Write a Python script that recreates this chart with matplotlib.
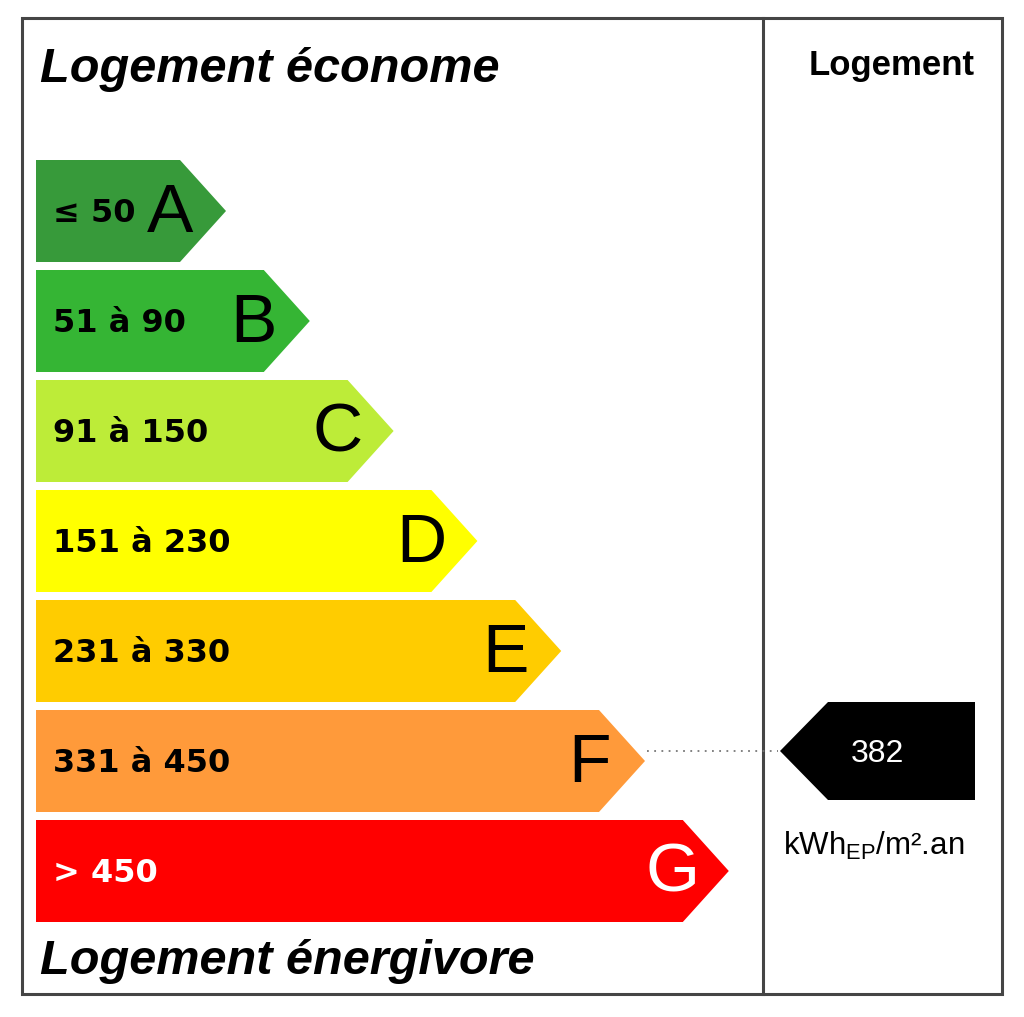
import matplotlib
matplotlib.use("Agg")
import matplotlib.pyplot as plt
from matplotlib.patches import Polygon, Rectangle

plt.rcParams['font.family'] = ['Liberation Sans', 'DejaVu Sans']

# classes of the energy label
letters = ['A', 'B', 'C', 'D', 'E', 'F', 'G']
ranges = ['≤ 50', '51 à 90', '91 à 150', '151 à 230', '231 à 330', '331 à 450', '> 450']
lower = [0, 51, 91, 151, 231, 331, 451]
colors = ['#379a3a', '#35b534', '#bdec38', '#ffff00', '#ffcc00', '#ff9a3a', '#ff0000']
text_colors = ['black', 'black', 'black', 'black', 'black', 'black', 'white']
value = 382  # kWh_EP/m².an

fig = plt.figure(figsize=(10.24, 10.17), dpi=100)
ax = fig.add_axes([0, 0, 1, 1])
ax.set_xlim(0, 1024)
ax.set_ylim(1017, 0)
ax.axis('off')

# frame
ax.add_patch(Rectangle((22, 18), 980, 976, fill=False, edgecolor='#454545', lw=2.2))
ax.plot([763, 763], [18, 994], color='#454545', lw=2.2)

ax.text(40, 69, 'Logement économe', fontsize=35, fontweight='bold', fontstyle='italic',
        ha='left', va='center')
ax.text(40, 961, 'Logement énergivore', fontsize=35, fontweight='bold', fontstyle='italic',
        ha='left', va='center')
ax.text(892, 65, 'Logement', fontsize=25, fontweight='bold', ha='center', va='center')

left = 36
top0 = 160
step = 110.0
h = 102
tip = 46

cls = max(i for i in range(len(lower)) if value >= lower[i])

for i, (let, rng, col, tc) in enumerate(zip(letters, ranges, colors, text_colors)):
    y0 = top0 + i * step
    y1 = y0 + h
    right = 180 + 83.8 * i
    ax.add_patch(Polygon([(left, y0), (right, y0), (right + tip, (y0 + y1) / 2),
                          (right, y1), (left, y1)], closed=True, facecolor=col, edgecolor='none'))
    ax.text(53, (y0 + y1) / 2 + 2, rng, fontsize=23, fontweight='bold', color=tc,
            family='DejaVu Sans', ha='left', va='center')
    ax.text(right - 10, (y0 + y1) / 2 + 3, let, fontsize=50, color=tc,
            ha='center', va='center')

# marker for the dwelling value
ym = top0 + cls * step + h / 2 - 10
ax.add_patch(Polygon([(780, ym), (828, ym - 49), (975, ym - 49), (975, ym + 49), (828, ym + 49)],
                     closed=True, facecolor='black', edgecolor='none'))
ax.text(877, ym + 3, str(value), fontsize=23, color='white', ha='center', va='center')
fr = 180 + 83.8 * cls + tip
ax.plot([fr + 2, 778], [ym, ym], color='#777777', lw=1.3, linestyle=(0, (1, 3)))
ax.text(874, 846, r'kWh$_{\mathregular{EP}}$/m².an', fontsize=22.5, ha='center', va='center')

fig.savefig('out.png', dpi=100)
